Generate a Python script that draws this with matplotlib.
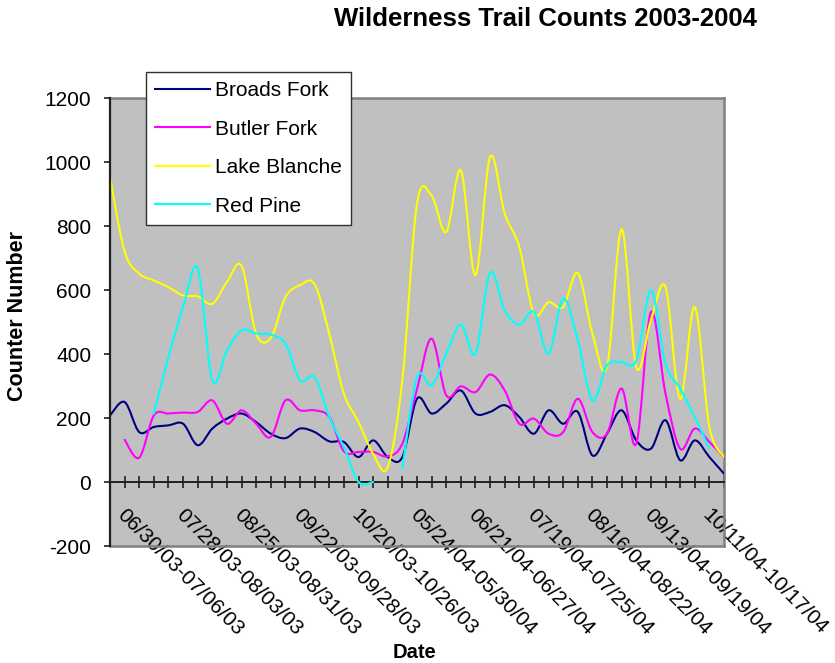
import matplotlib
matplotlib.use("Agg")
import matplotlib.pyplot as plt
from matplotlib.path import Path
from matplotlib.patches import PathPatch
from matplotlib.lines import Line2D
from matplotlib.transforms import ScaledTranslation

plt.rcParams['font.family'] = ['Liberation Sans', 'DejaVu Sans']
plt.rcParams['axes.unicode_minus'] = False

# Weekly counter readings, one value per week (None = no reading)
week_labels = ["06/30/03-07/06/03", "07/28/03-08/03/03", "08/25/03-08/31/03",
               "09/22/03-09/28/03", "10/20/03-10/26/03", "05/24/04-05/30/04",
               "06/21/04-06/27/04", "07/19/04-07/25/04", "08/16/04-08/22/04",
               "09/13/04-09/19/04", "10/11/04-10/17/04"]
label_every = 4

broads_fork = [208, 250, 156, 172, 177, 182, 115, 167, 198, 214, 187, 151, 137, 167,
               156, 127, 125, 78, 130, 78, 78, 260, 214, 245, 286, 214, 219, 240,
               203, 151, 224, 182, 219, 83, 151, 224, 130, 104, 193, 68, 130, 78, 26]
butler_fork = [None, 132, 76, 208, 214, 217, 219, 255, 182, 224, 182, 141, 255, 224,
               224, 203, 96, 94, 94, 80, 120, 290, 448, 271, 299, 281, 336, 286,
               182, 198, 151, 156, 260, 156, 151, 292, 120, 531, 276, 104, 167, 125, 78]
lake_blanche = [953, 720, 651, 630, 609, 583, 580, 557, 625, 675, 463, 450, 578, 615,
                618, 463, 276, 187, 88, 47, 320, 870, 895, 781, 974, 646, 1016, 839,
                734, 526, 562, 547, 653, 464, 359, 790, 359, 505, 609, 260, 547, 172, 78]
red_pine = [None, None, None, 214, 391, 547, 667, 318, 411, 474, 464, 460, 432, 318,
            328, 203, 109, 0, 0, None, 42, 328, 302, 401, 492, 401, 654, 536,
            492, 531, 401, 573, 443, 255, 365, 375, 380, 599, 370, 292, 203, 104, None]

series_names = ["Broads Fork", "Butler Fork", "Lake Blanche", "Red Pine"]
series_values = [broads_fork, butler_fork, lake_blanche, red_pine]
series_colors = ["#000080", "#FF00FF", "#FFFF00", "#00FFFF"]


def runs(values):
    """Split a series into contiguous runs of (index, value)."""
    out, cur = [], []
    for i, v in enumerate(values):
        if v is None:
            if cur:
                out.append(cur)
            cur = []
        else:
            cur.append((i, v))
    if cur:
        out.append(cur)
    return out


def smooth_path(points):
    """Cubic Bezier path through the points (cardinal spline smoothing)."""
    xs = [p[0] for p in points]
    ys = [p[1] for p in points]
    n = len(xs)
    verts = [(xs[0], ys[0])]
    codes = [Path.MOVETO]
    for i in range(n - 1):
        a = i - 1 if i > 0 else i
        d = i + 2 if i + 2 < n else i + 1
        c1 = (xs[i] + (xs[i + 1] - xs[a]) / 6.0, ys[i] + (ys[i + 1] - ys[a]) / 6.0)
        c2 = (xs[i + 1] - (xs[d] - xs[i]) / 6.0, ys[i + 1] - (ys[d] - ys[i]) / 6.0)
        verts += [c1, c2, (xs[i + 1], ys[i + 1])]
        codes += [Path.CURVE4] * 3
    return Path(verts, codes)


W, H = 835, 663
fig = plt.figure(figsize=(W / 100, H / 100), dpi=100)
fig.patch.set_facecolor("white")

x0, x1, ytop, ybot = 110, 724, 98, 546
ax = fig.add_axes([x0 / W, 1 - ybot / H, (x1 - x0) / W, (ybot - ytop) / H])
ax.set_facecolor("#C0C0C0")

n_weeks = len(broads_fork)
ax.set_xlim(0, n_weeks - 1)
ax.set_ylim(-200, 1200)

lw = 1.5
for vals, col in zip(series_values, series_colors):
    for seg in runs(vals):
        ax.add_patch(PathPatch(smooth_path(seg), facecolor="none", edgecolor=col,
                               lw=lw, capstyle="round", joinstyle="round", zorder=3))

# Frame of the plotting area
for side in ("top", "right"):
    ax.spines[side].set_color("#808080")
    ax.spines[side].set_linewidth(1.8)
ax.spines["left"].set_color("#202020")
ax.spines["left"].set_linewidth(1.6)
ax.spines["bottom"].set_position(("data", 0))
ax.spines["bottom"].set_color("#202020")
ax.spines["bottom"].set_linewidth(1.4)
ax.plot([0, 1], [0, 0], transform=ax.transAxes, color="#808080", lw=1.8,
        clip_on=False, zorder=5)
ax.spines["left"].set_zorder(6)

# Value axis
ax.set_yticks(range(-200, 1201, 200))
ax.tick_params(axis="y", direction="out", length=4.5, width=1.2, color="#202020",
               labelsize=15, pad=9)

# Category axis
ax.set_xticks(range(0, label_every * len(week_labels), label_every))
ax.set_xticks(range(n_weeks), minor=True)
ax.set_xticklabels(week_labels, rotation=-45, ha="left", va="top",
                   rotation_mode="anchor", fontsize=15)
ax.tick_params(axis="x", which="both", direction="inout", length=9, width=1.2,
               color="#202020", pad=12)
shift = ScaledTranslation(17 / 100, 0, fig.dpi_scale_trans)
for lab in ax.get_xticklabels():
    lab.set_transform(lab.get_transform() + shift)

# Legend
handles = [Line2D([], [], color=c, lw=lw) for c in series_colors]
leg = ax.legend(handles, series_names, loc="upper left",
                bbox_to_anchor=(146 / W, 1 - 72 / H), bbox_transform=fig.transFigure,
                fontsize=15, frameon=True, fancybox=False, shadow=False,
                handlelength=2.6, handletextpad=0.25, borderpad=0.45,
                labelspacing=0.93, borderaxespad=0, framealpha=1)
leg.get_frame().set_edgecolor("#303030")
leg.get_frame().set_linewidth(1.0)
leg.set_zorder(10)

fig.text(545 / W, 1 - 19 / H, "Wilderness Trail Counts 2003-2004", ha="center",
         va="center", fontsize=18.5, fontweight="bold")
fig.text(18 / W, 1 - 316 / H, "Counter Number", rotation=90, ha="center",
         va="center", fontsize=15.5, fontweight="bold")
fig.text(415 / W, 1 - 653 / H, "Date", ha="center", va="center",
         fontsize=14.5, fontweight="bold")

fig.savefig("out.png", dpi=100)
